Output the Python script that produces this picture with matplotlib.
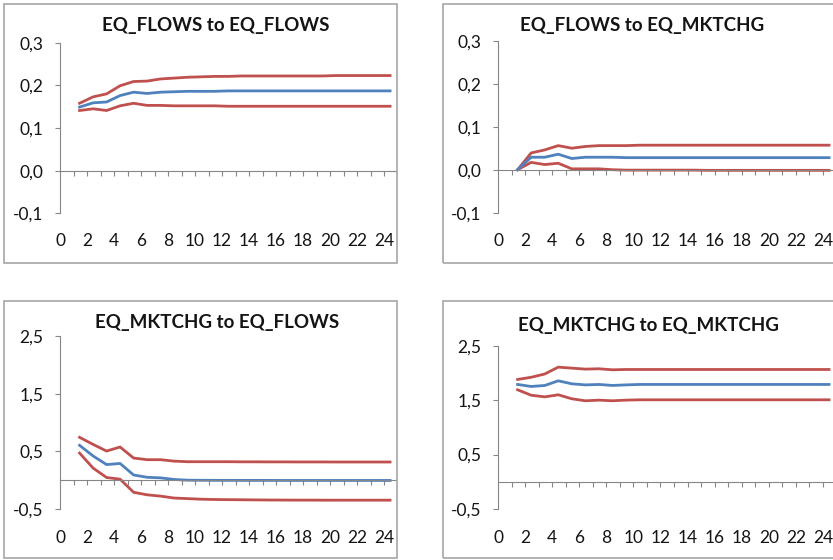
import matplotlib
matplotlib.use("Agg")
import matplotlib.pyplot as plt
import matplotlib.transforms as mtrans
from matplotlib.patches import Rectangle

plt.rcParams['font.family'] = ['Lato', 'DejaVu Sans']

W, H = 833, 560

periods = list(range(1, 25))
x_labels = [str(v) for v in range(0, 25, 2)]
x_label_pos = list(range(0, 25, 2))

titles = ["EQ_FLOWS to EQ_FLOWS", "EQ_FLOWS to EQ_MKTCHG",
          "EQ_MKTCHG to EQ_FLOWS", "EQ_MKTCHG to EQ_MKTCHG"]

upper1 = [0.158, 0.173, 0.180, 0.199, 0.209, 0.210, 0.215, 0.217, 0.219, 0.220, 0.221, 0.221,
          0.222, 0.222, 0.222, 0.222, 0.222, 0.222, 0.222, 0.223, 0.223, 0.223, 0.223, 0.223]
resp1 = [0.149, 0.159, 0.161, 0.176, 0.184, 0.181, 0.184, 0.185, 0.186, 0.186, 0.186, 0.187,
         0.187, 0.187, 0.187, 0.187, 0.187, 0.187, 0.187, 0.187, 0.187, 0.187, 0.187, 0.187]
lower1 = [0.141, 0.145, 0.141, 0.152, 0.158, 0.153, 0.153, 0.152, 0.152, 0.152, 0.152, 0.151,
          0.151, 0.151, 0.151, 0.151, 0.151, 0.151, 0.151, 0.151, 0.151, 0.151, 0.151, 0.151]

upper2 = [0.000, 0.039, 0.046, 0.056, 0.050, 0.054, 0.056, 0.056, 0.056, 0.057, 0.057, 0.057,
          0.057, 0.057, 0.057, 0.057, 0.057, 0.057, 0.057, 0.057, 0.057, 0.057, 0.057, 0.057]
resp2 = [0.000, 0.029, 0.029, 0.036, 0.026, 0.029, 0.029, 0.029, 0.028, 0.028, 0.028, 0.028,
         0.028, 0.028, 0.028, 0.028, 0.028, 0.028, 0.028, 0.028, 0.028, 0.028, 0.028, 0.028]
lower2 = [0.000, 0.017, 0.012, 0.015, 0.002, 0.002, 0.002, 0.000, -0.001, -0.001, -0.001, -0.001,
          -0.001, -0.001, -0.0015, -0.0015, -0.0015, -0.0015, -0.0015, -0.0015, -0.0015, -0.0015,
          -0.0015, -0.0015]

upper3 = [0.743, 0.620, 0.505, 0.575, 0.384, 0.355, 0.355, 0.330, 0.320, 0.320, 0.320, 0.320,
          0.318, 0.318, 0.317, 0.317, 0.316, 0.316, 0.316, 0.315, 0.315, 0.315, 0.315, 0.315]
resp3 = [0.604, 0.420, 0.270, 0.290, 0.090, 0.050, 0.040, 0.012, 0.000, -0.002, -0.003, -0.003,
         -0.004, -0.004, -0.004, -0.005, -0.005, -0.005, -0.005, -0.005, -0.005, -0.005, -0.005,
         -0.005]
lower3 = [0.470, 0.210, 0.046, 0.017, -0.210, -0.254, -0.277, -0.310, -0.320, -0.330, -0.335,
          -0.338, -0.340, -0.342, -0.344, -0.345, -0.346, -0.346, -0.347, -0.347, -0.347, -0.347,
          -0.347, -0.347]

upper4 = [1.880, 1.920, 1.980, 2.106, 2.088, 2.070, 2.076, 2.057, 2.063, 2.063, 2.063, 2.063,
          2.063, 2.063, 2.063, 2.063, 2.063, 2.063, 2.063, 2.063, 2.063, 2.063, 2.063, 2.063]
resp4 = [1.788, 1.751, 1.769, 1.855, 1.800, 1.780, 1.788, 1.770, 1.780, 1.788, 1.788, 1.788,
         1.788, 1.788, 1.788, 1.788, 1.788, 1.788, 1.788, 1.788, 1.788, 1.788, 1.788, 1.788]
lower4 = [1.690, 1.590, 1.560, 1.598, 1.525, 1.488, 1.500, 1.488, 1.500, 1.506, 1.506, 1.506,
          1.506, 1.506, 1.506, 1.506, 1.506, 1.506, 1.506, 1.506, 1.506, 1.506, 1.506, 1.506]

yticks_top = [-0.1, 0.0, 0.1, 0.2, 0.3]
ytick_labels_top = ["-0,1", "0,0", "0,1", "0,2", "0,3"]
yticks_bot = [-0.5, 0.5, 1.5, 2.5]
ytick_labels_bot = ["-0,5", "0,5", "1,5", "2,5"]

RED = "#C0504D"
BLUE = "#4F81BD"
AXC = "#868686"
BOXC = "#A6A6A6"
TXT = "#141414"

fig = plt.figure(figsize=(W / 100, H / 100), dpi=100)

panels = [
    dict(x0=60, unit=13.5, ytop=42.7, ybot=213.3, ylim=(-0.1, 0.3),
         box=(4, 4, 397, 263), tc=(216, 26), xly=241.5,
         yt=yticks_top, ytl=ytick_labels_top,
         data=(upper1, resp1, lower1), title=titles[0]),
    dict(x0=498, unit=13.54, ytop=40.7, ybot=212.7, ylim=(-0.1, 0.3),
         box=(443, 4, 845, 263), tc=(642, 26), xly=241,
         yt=yticks_top, ytl=ytick_labels_top,
         data=(upper2, resp2, lower2), title=titles[1]),
    dict(x0=60, unit=13.5, ytop=336, ybot=509, ylim=(-0.5, 2.5),
         box=(4, 301, 397, 558), tc=(217, 322.5), xly=538,
         yt=yticks_bot, ytl=ytick_labels_bot,
         data=(upper3, resp3, lower3), title=titles[2]),
    dict(x0=498, unit=13.54, ytop=345.7, ybot=509, ylim=(-0.5, 2.5),
         box=(443, 301, 845, 558), tc=(648, 325.5), xly=538,
         yt=yticks_bot, ytl=ytick_labels_bot,
         data=(upper4, resp4, lower4), title=titles[3]),
]

XMAX = 24.87
OFFSET = 0.45

for p in panels:
    bx0, by0, bx1, by1 = p['box']
    fig.patches.append(Rectangle((bx0 / W, 1 - by1 / H), (bx1 - bx0) / W, (by1 - by0) / H,
                                 transform=fig.transFigure, fill=False,
                                 edgecolor=BOXC, linewidth=1.2, zorder=0))
    x1 = p['x0'] + XMAX * p['unit']
    ax = fig.add_axes([p['x0'] / W, 1 - p['ybot'] / H, (x1 - p['x0']) / W,
                       (p['ybot'] - p['ytop']) / H])
    ax.patch.set_alpha(0)
    ax.set_xlim(0, XMAX)
    ax.set_ylim(*p['ylim'])
    for s in ['top', 'right']:
        ax.spines[s].set_visible(False)
    ax.spines['left'].set_color(AXC)
    ax.spines['left'].set_linewidth(0.8)
    ax.spines['bottom'].set_color(AXC)
    ax.spines['bottom'].set_linewidth(0.8)
    ax.spines['bottom'].set_position(('data', 0))
    ax.set_yticks(p['yt'])
    ax.set_yticklabels(p['ytl'])
    ax.tick_params(axis='y', direction='out', length=3.5, width=0.8, color=AXC,
                   labelsize=12.5, labelcolor=TXT, pad=8.5)
    ax.set_xticks(periods)
    ax.set_xticklabels([])
    ax.tick_params(axis='x', direction='out', length=3.5, width=0.8, color=AXC)
    xs = [t + OFFSET for t in periods]
    up, rs, lo = p['data']
    ax.plot(xs, up, color=RED, lw=2.0, solid_joinstyle='round', clip_on=False)
    ax.plot(xs, lo, color=RED, lw=2.0, solid_joinstyle='round', clip_on=False)
    ax.plot(xs, rs, color=BLUE, lw=2.0, solid_joinstyle='round', clip_on=False)
    trans = mtrans.blended_transform_factory(ax.transData, fig.transFigure)
    for pos, lab in zip(x_label_pos, x_labels):
        ax.text(pos, 1 - p['xly'] / H, lab, transform=trans, ha='center', va='center',
                fontsize=12.5, color=TXT)
    fig.text(p['tc'][0] / W, 1 - p['tc'][1] / H, p['title'], ha='center', va='center',
             fontsize=13.5, fontweight='bold', color=TXT)

fig.savefig("out.png", dpi=100)
